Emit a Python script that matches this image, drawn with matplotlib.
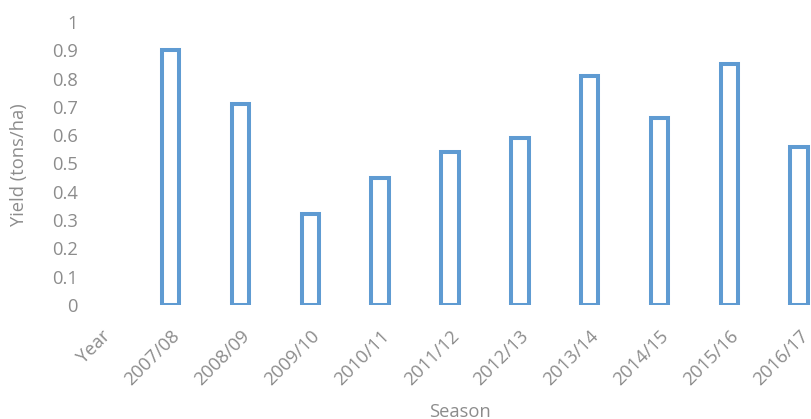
import numpy as np
import matplotlib.pyplot as plt
from matplotlib.transforms import ScaledTranslation

plt.rcParams['font.family'] = ['Open Sans', 'DejaVu Sans']

seasons = ['Year', '2007/08', '2008/09', '2009/10', '2010/11', '2011/12',
           '2012/13', '2013/14', '2014/15', '2015/16', '2016/17']
# "Year" is an empty category in the original sheet
yields = [np.nan, 0.90, 0.71, 0.32, 0.45, 0.54, 0.59, 0.81, 0.66, 0.85, 0.56]

text_color = '#8c8c8c'
bar_color = '#5f9bd2'

fig = plt.figure(figsize=(8.11, 4.19), dpi=100)
# axes runs past the right edge, like the cropped original
ax = fig.add_axes([66 / 811, 114 / 419, 768 / 811, 283 / 419])

x = np.arange(len(seasons))
ax.bar(x, yields, width=0.25, facecolor='white', edgecolor=bar_color, linewidth=2.9)

ax.set_xlim(-0.5, len(seasons) - 0.5)
ax.set_ylim(0, 1)
ax.set_yticks(np.arange(0, 1.01, 0.1))
ax.set_yticklabels(['0'] + [f'{v:.1f}' for v in np.arange(0.1, 0.95, 0.1)] + ['1'])
ax.set_xticks(x)
ax.set_xticklabels(seasons, rotation=45, ha='right', rotation_mode='anchor')

# shift the slanted labels right so they end past the bar centre
shift = ScaledTranslation(16 / 100, 0, fig.dpi_scale_trans)
for lab in ax.get_xticklabels():
    lab.set_transform(lab.get_transform() + shift)

for s in ax.spines.values():
    s.set_visible(False)
ax.tick_params(length=0, colors=text_color, labelsize=13.2)
ax.tick_params(axis='y', pad=-8.6)
ax.tick_params(axis='x', pad=16)

ax.set_ylabel('Yield (tons/ha)', color=text_color, fontsize=13.2)
ax.yaxis.set_label_coords(-0.049, 0.495)
ax.set_xlabel('Season', color=text_color, fontsize=13.2)
ax.xaxis.set_label_coords(0.513, -0.345)

fig.savefig('out.png', dpi=100)
